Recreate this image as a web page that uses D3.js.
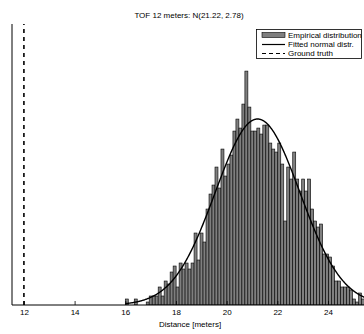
<!DOCTYPE html>
<html>
<head>
<meta charset="utf-8">
<script src="https://cdn.jsdelivr.net/npm/d3@7"></script>
<style>
  html, body { margin: 0; padding: 0; background: #fff; }
  svg { display: block; }
  text { font-family: "Liberation Sans", Arial, Helvetica, sans-serif; fill: #000; }
</style>
</head>
<body>
<svg id="chart" width="364" height="334"></svg>
<script>
// Histogram of TOF range estimates (12 m ground truth)
const binStart = 16.0;      // left edge of the first bin [m]
const binWidth = 0.118;     // bin width [m]
const counts = [
  2, 0, 0, 2, 0, 0, 0, 1, 3, 3,
  3, 6, 3, 8, 7, 11, 13, 6, 14, 12,
  14, 12, 14, 24, 15, 24, 21, 32, 37, 40,
  46, 39, 52, 43, 47, 50, 58, 62, 59, 67,
  78, 66, 58, 58, 59, 57, 60, 60, 54, 52,
  51, 54, 47, 28, 46, 42, 51, 42, 38, 42,
  38, 42, 32, 28, 26, 27, 17, 17, 16, 13,
  8, 8, 6, 6, 6, 5, 2, 1, 4, 2
];
// Fitted normal N(mean, variance)
const fitMean = 21.22;
const fitVar = 2.78;
const groundTruth = 12;

const xTicks = [12, 14, 16, 18, 20, 22, 24];
const titleText = "TOF 12 meters: N(21.22, 2.78)";
const xLabel = "Distance [meters]";
const legendLabels = ["Empirical distribution", "Fitted normal distr.", "Ground truth"];

const svg = d3.select("#chart");
const plotLeft = 12, plotRight = 364, plotTop = 24, plotBottom = 305;

const x = d3.scaleLinear().domain([11.53, 25.42]).range([plotLeft, plotRight]);
const y = d3.scaleLinear().domain([0, 93.7]).range([plotBottom, plotTop]);

svg.append("defs").append("clipPath").attr("id", "plotClip")
  .append("rect").attr("x", plotLeft).attr("y", 0)
  .attr("width", plotRight - plotLeft).attr("height", plotBottom);

const plot = svg.append("g").attr("clip-path", "url(#plotClip)");

// bars
const bins = counts.map((c, i) => ({ x0: binStart + i * binWidth, x1: binStart + (i + 1) * binWidth, c }));
plot.selectAll("rect.bar").data(bins.filter(d => d.c > 0)).join("rect")
  .attr("class", "bar")
  .attr("x", d => x(d.x0))
  .attr("width", d => x(d.x1) - x(d.x0))
  .attr("y", d => y(d.c))
  .attr("height", d => y(0) - y(d.c))
  .attr("fill", "#7f7f7f")
  .attr("stroke", "#000")
  .attr("stroke-width", 0.6);

// fitted normal scaled to the histogram (N * binWidth * pdf)
const total = d3.sum(counts);
const sd = Math.sqrt(fitVar);
const pdf = v => Math.exp(-((v - fitMean) ** 2) / (2 * fitVar)) / (sd * Math.sqrt(2 * Math.PI));
const curveX = d3.range(binStart, binStart + 100 * binWidth, 0.02);
plot.append("path")
  .datum(curveX)
  .attr("fill", "none")
  .attr("stroke", "#000")
  .attr("stroke-width", 1.4)
  .attr("d", d3.line().x(v => x(v)).y(v => y(total * binWidth * pdf(v))));

// ground truth
plot.append("line")
  .attr("x1", x(groundTruth)).attr("x2", x(groundTruth))
  .attr("y1", y(0)).attr("y2", plotTop)
  .attr("stroke", "#000").attr("stroke-width", 1.6)
  .attr("stroke-dasharray", "4,4");

// axes
const xAxis = d3.axisBottom(x).tickValues(xTicks).tickSize(-4).tickPadding(8).tickFormat(d3.format("d"));
const gx = svg.append("g").attr("transform", `translate(0,${plotBottom})`).call(xAxis);
gx.select(".domain").remove();
gx.selectAll(".tick line").attr("stroke", "#000").attr("stroke-width", 0.8);
gx.selectAll(".tick text").attr("font-size", 8).attr("dy", "0.3em");

svg.append("line").attr("x1", plotLeft).attr("x2", plotRight).attr("y1", plotBottom).attr("y2", plotBottom)
  .attr("stroke", "#000").attr("stroke-width", 1);
svg.append("line").attr("x1", plotLeft).attr("x2", plotLeft).attr("y1", plotTop).attr("y2", plotBottom)
  .attr("stroke", "#000").attr("stroke-width", 1);

// labels
svg.append("text").attr("x", 189).attr("y", 17.5).attr("text-anchor", "middle")
  .attr("font-size", 8).text(titleText);
svg.append("text").attr("x", 190).attr("y", 326.5).attr("text-anchor", "middle")
  .attr("font-size", 8).text(xLabel);

// legend
const lg = svg.append("g");
lg.append("rect").attr("x", 256.5).attr("y", 29.5).attr("width", 105).attr("height", 29)
  .attr("fill", "#fff").attr("stroke", "#000").attr("stroke-width", 0.8);
const rows = [35, 44.5, 53.5];
lg.append("rect").attr("x", 262).attr("y", rows[0] - 2.5).attr("width", 23).attr("height", 5)
  .attr("fill", "#7f7f7f").attr("stroke", "#000").attr("stroke-width", 0.6);
lg.append("line").attr("x1", 262).attr("x2", 285).attr("y1", rows[1]).attr("y2", rows[1])
  .attr("stroke", "#000").attr("stroke-width", 1.2);
lg.append("line").attr("x1", 262).attr("x2", 285).attr("y1", rows[2]).attr("y2", rows[2])
  .attr("stroke", "#000").attr("stroke-width", 1.2).attr("stroke-dasharray", "4,3");
legendLabels.forEach((t, i) => {
  lg.append("text").attr("x", 288).attr("y", rows[i] + 2.8).attr("font-size", 8).text(t);
});
</script>
</body>
</html>
